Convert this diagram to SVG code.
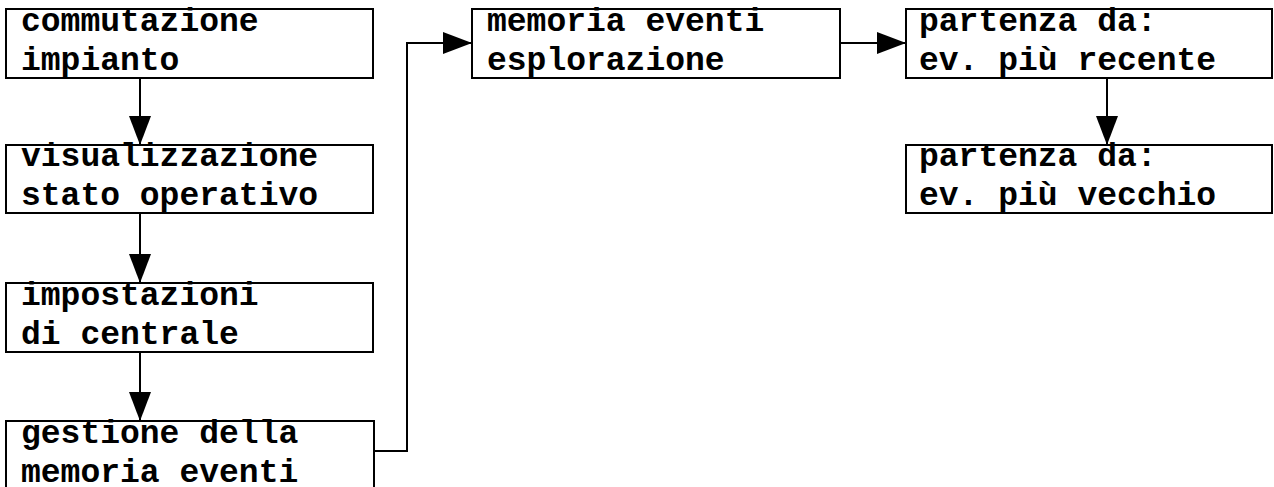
<svg xmlns="http://www.w3.org/2000/svg" width="1274" height="487" viewBox="0 0 1274 487">
<style>
.box{fill:#fff;stroke:#000;stroke-width:2}
.t{font-family:"Liberation Mono","Courier New",monospace;font-weight:bold;font-size:33px;fill:#000}
.c{fill:none;stroke:#000;stroke-width:2}
</style>
<defs>
<marker id="ah" markerUnits="userSpaceOnUse" markerWidth="30" markerHeight="22" refX="29" refY="11" orient="auto">
<path d="M0,0 L29,11 L0,22 Z" fill="#000"/>
</marker>
</defs>
<rect width="1274" height="487" fill="#fff"/>
<g id="connectors">
<line class="c" x1="140" y1="78" x2="140" y2="145" marker-end="url(#ah)"/>
<line class="c" x1="140" y1="213" x2="140" y2="283" marker-end="url(#ah)"/>
<line class="c" x1="140" y1="352" x2="140" y2="421" marker-end="url(#ah)"/>
<polyline class="c" points="374,451 407,451 407,43 472,43" marker-end="url(#ah)"/>
<line class="c" x1="840" y1="43" x2="906" y2="43" marker-end="url(#ah)"/>
<line class="c" x1="1107" y1="78" x2="1107" y2="145" marker-end="url(#ah)"/>
</g>
<g id="n1"><rect class="box" x="6" y="9" width="367" height="69"/><text class="t" x="21" y="31">commutazione</text><text class="t" x="21" y="70">impianto</text></g>
<g id="n2"><rect class="box" x="6" y="145" width="367" height="68"/><text class="t" x="21" y="166">visualizzazione</text><text class="t" x="21" y="205">stato operativo</text></g>
<g id="n3"><rect class="box" x="6" y="283" width="367" height="69"/><text class="t" x="21" y="305">impostazioni</text><text class="t" x="21" y="344">di centrale</text></g>
<g id="n4"><rect class="box" x="6" y="421" width="368" height="70"/><text class="t" x="21" y="443">gestione della</text><text class="t" x="21" y="482">memoria eventi</text></g>
<g id="n5"><rect class="box" x="472" y="9" width="368" height="69"/><text class="t" x="487" y="31">memoria eventi</text><text class="t" x="487" y="70">esplorazione</text></g>
<g id="n6"><rect class="box" x="906" y="9" width="366" height="69"/><text class="t" x="919" y="31">partenza da:</text><text class="t" x="919" y="70">ev. più recente</text></g>
<g id="n7"><rect class="box" x="906" y="145" width="366" height="68"/><text class="t" x="919" y="166">partenza da:</text><text class="t" x="919" y="205">ev. più vecchio</text></g>
</svg>
